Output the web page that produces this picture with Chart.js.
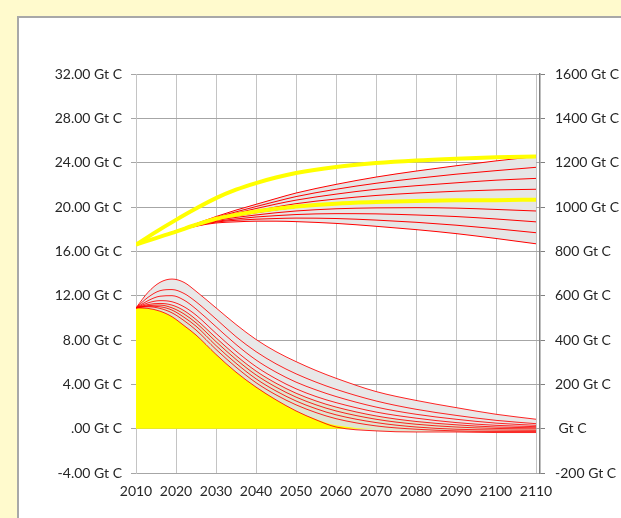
<!DOCTYPE html>
<html>
<head>
<meta charset="utf-8">
<script src="https://cdn.jsdelivr.net/npm/chart.js@4/dist/chart.umd.min.js"></script>
<style>
  html, body { margin: 0; padding: 0; }
  body { width: 621px; height: 518px; overflow: hidden; background: #fffacd; position: relative; }
  #panel { position: absolute; left: 17px; top: 16px; width: 720px; height: 620px;
           background: #ffffff; border: 2px solid #a8a8a8; box-sizing: border-box; }
  #chart { position: absolute; left: 0; top: 0; }
</style>
</head>
<body>
<div id="panel"></div>
<canvas id="chart" width="621" height="518"></canvas>
<script>
// Years sampled for the annual emission pathways (left axis, Gt C per year)
const EMIS_YEARS = [2010, 2013, 2016, 2019, 2022, 2025, 2030, 2035, 2040, 2045, 2050, 2055, 2060, 2070, 2080, 2090, 2100, 2110];

// Emission pathways, highest (E0) to lowest (E8)
const E0 = [10.9, 12.3, 13.2, 13.5, 13.2, 12.4, 10.9, 9.4, 8.05, 6.95, 6.05, 5.25, 4.55, 3.35, 2.55, 1.9, 1.3, 0.85];
const E1 = [10.9, 11.85, 12.45, 12.55, 12.2, 11.45, 9.9, 8.3, 6.95, 5.85, 4.95, 4.2, 3.55, 2.5, 1.75, 1.2, 0.75, 0.45];
const E2 = [10.9, 11.55, 11.95, 12.0, 11.6, 10.8, 9.2, 7.6, 6.2, 5.1, 4.2, 3.5, 2.9, 1.95, 1.3, 0.85, 0.5, 0.3];
const E3 = [10.9, 11.35, 11.55, 11.45, 11.0, 10.25, 8.6, 7.0, 5.6, 4.5, 3.6, 2.9, 2.35, 1.5, 0.95, 0.55, 0.3, 0.18];
const E4 = [10.9, 11.2, 11.3, 11.15, 10.65, 9.85, 8.2, 6.6, 5.2, 4.1, 3.2, 2.5, 1.95, 1.15, 0.65, 0.35, 0.15, 0.08];
const E5 = [10.9, 11.1, 11.15, 10.9, 10.35, 9.55, 7.85, 6.25, 4.85, 3.75, 2.85, 2.15, 1.6, 0.85, 0.4, 0.15, 0.02, -0.02];
const E6 = [10.9, 11.05, 11.0, 10.7, 10.05, 9.25, 7.5, 5.9, 4.5, 3.4, 2.5, 1.8, 1.25, 0.55, 0.15, -0.05, -0.12, -0.15];
const E7 = [10.9, 11.0, 10.85, 10.45, 9.75, 8.9, 7.15, 5.55, 4.15, 3.05, 2.15, 1.45, 0.9, 0.25, -0.05, -0.2, -0.25, -0.25];
const E8 = [10.9, 10.85, 10.6, 10.1, 9.3, 8.45, 6.7, 5.1, 3.75, 2.6, 1.6, 0.8, 0.15, -0.2, -0.3, -0.3, -0.35, -0.35];
// Highlighted emission pathway (yellow area)
const EMIS_YELLOW = [10.9, 10.85, 10.6, 10.1, 9.3, 8.45, 6.7, 5.1, 3.75, 2.6, 1.6, 0.85, 0.3, 0, 0, 0, 0, 0];

// Years sampled for the cumulative totals (right axis, Gt C)
const CUM_YEARS = [2010, 2015, 2020, 2025, 2030, 2035, 2040, 2045, 2050, 2060, 2070, 2080, 2090, 2100, 2110];
const C0 = [830, 862, 893, 925, 957, 986, 1012, 1038, 1063, 1102, 1135, 1162, 1186, 1208, 1228];
const C1 = [830, 862, 892, 923, 953, 978, 1002, 1025, 1047, 1080, 1107, 1129, 1148, 1164, 1179];
const C2 = [830, 861, 892, 922, 950, 972, 993, 1013, 1031, 1058, 1080, 1096, 1109, 1121, 1129];
const C3 = [830, 861, 891, 920, 946, 966, 983, 1000, 1015, 1036, 1052, 1063, 1071, 1077, 1080];
const C4 = [830, 861, 891, 919, 942, 959, 974, 987, 998, 1014, 1024, 1030, 1033, 1033, 1031];
const C5 = [830, 861, 890, 917, 939, 953, 964, 974, 982, 992, 996, 997, 995, 989, 982];
const C6 = [830, 861, 890, 916, 935, 946, 955, 961, 966, 970, 969, 964, 957, 946, 933];
const C7 = [830, 860, 889, 914, 932, 940, 945, 948, 950, 948, 941, 931, 918, 902, 884];
const C8 = [830, 860, 889, 913, 928, 933, 936, 936, 934, 926, 913, 898, 880, 858, 834];
// Highlighted cumulative totals (thick yellow lines)
const CUM_YELLOW_HIGH = [830, 888, 942, 993, 1040, 1078, 1108, 1133, 1153, 1180, 1198, 1210, 1218, 1224, 1228];
const CUM_YELLOW_LOW = [830, 860, 889, 920, 947, 965, 980, 992, 1002, 1015, 1022, 1027, 1030, 1031, 1033];

// Axis ticks
const X_TICKS = [2010, 2020, 2030, 2040, 2050, 2060, 2070, 2080, 2090, 2100, 2110];
const LEFT_TICKS = [-4, 0, 4, 8, 12, 16, 20, 24, 28, 32];
const RIGHT_TICKS = [-200, 0, 200, 400, 600, 800, 1000, 1200, 1400, 1600];

const pts = (xs, ys) => xs.map((x, i) => ({ x: x, y: ys[i] }));

const CUM = [C0, C1, C2, C3, C4, C5, C6, C7, C8];
const EMIS = [E0, E1, E2, E3, E4, E5, E6, E7, E8];

const base = { pointRadius: 0, cubicInterpolationMode: 'monotone', fill: false };
const NONE = 'rgba(0,0,0,0)';

const datasets = [];
// thick yellow cumulative lines (drawn on top)
datasets.push(Object.assign({}, base, { data: pts(CUM_YEARS, CUM_YELLOW_HIGH), yAxisID: 'y2', borderColor: '#ffff00', borderWidth: 4 }));
datasets.push(Object.assign({}, base, { data: pts(CUM_YEARS, CUM_YELLOW_LOW), yAxisID: 'y2', borderColor: '#ffff00', borderWidth: 4 }));
// red cumulative lines
const CUM_START = datasets.length;
CUM.forEach(c => datasets.push(Object.assign({}, base, { data: pts(CUM_YEARS, c), yAxisID: 'y2', borderColor: '#ff0000', borderWidth: 1 })));
// red emission lines
const EMIS_START = datasets.length;
EMIS.forEach(e => datasets.push(Object.assign({}, base, { data: pts(EMIS_YEARS, e), yAxisID: 'y', borderColor: 'rgba(255,0,0,0.85)', borderWidth: 1 })));
// yellow emission area
datasets.push(Object.assign({}, base, { data: pts(EMIS_YEARS, EMIS_YELLOW), yAxisID: 'y', borderWidth: 0, borderColor: NONE,
  fill: { target: 'origin', above: '#ffff00', below: '#ffff00' } }));
// greenish band in the lower half of the emission range
datasets.push(Object.assign({}, base, { data: pts(EMIS_YEARS, E4), yAxisID: 'y', borderWidth: 0, borderColor: NONE,
  fill: { target: EMIS_START + 8, above: '#dfe5d0', below: '#dfe5d0' } }));
// grey band between highest and lowest emission pathways
datasets.push(Object.assign({}, base, { data: pts(EMIS_YEARS, E0), yAxisID: 'y', borderWidth: 0, borderColor: NONE,
  fill: { target: EMIS_START + 8, above: '#e8e8e8', below: '#e8e8e8' } }));
// grey band between highest and lowest cumulative totals
datasets.push(Object.assign({}, base, { data: pts(CUM_YEARS, C0), yAxisID: 'y2', borderWidth: 0, borderColor: NONE,
  fill: { target: CUM_START + 8, above: '#e6e6e6', below: '#e6e6e6' } }));

const FONT = { family: 'Lato', size: 14 };
const TEXT = '#262626';

new Chart(document.getElementById('chart'), {
  type: 'line',
  data: { datasets: datasets },
  options: {
    responsive: false,
    animation: false,
    devicePixelRatio: 1,
    layout: { padding: { top: 74, left: 0, right: 0, bottom: 0 } },
    plugins: { legend: { display: false }, tooltip: { enabled: false } },
    scales: {
      x: {
        type: 'linear', min: X_TICKS[0], max: 2111,
        afterBuildTicks: s => { s.ticks = X_TICKS.map(v => ({ value: v })); },
        afterFit: s => { s.height = 45; },
        ticks: { color: TEXT, font: FONT, padding: 10, maxRotation: 0, autoSkip: false, callback: v => String(v) },
        grid: { color: '#c4c4c4', lineWidth: 1, drawTicks: false },
        border: { color: '#a6a6a6', width: 1 }
      },
      y: {
        type: 'linear', position: 'left', min: LEFT_TICKS[0], max: LEFT_TICKS[LEFT_TICKS.length - 1],
        afterBuildTicks: s => { s.ticks = LEFT_TICKS.map(v => ({ value: v })); },
        afterFit: s => { s.width = 136; },
        ticks: { color: TEXT, font: FONT, padding: 9,
                 callback: v => (v === 0 ? '.00' : v.toFixed(2)) + ' Gt C' },
        grid: { color: '#a6a6a6', lineWidth: 1, tickLength: 5 },
        border: { color: '#c4c4c4', width: 1 }
      },
      y2: {
        type: 'linear', position: 'right', min: RIGHT_TICKS[0], max: RIGHT_TICKS[RIGHT_TICKS.length - 1],
        afterBuildTicks: s => { s.ticks = RIGHT_TICKS.map(v => ({ value: v })); },
        afterFit: s => { s.width = 81; },
        ticks: { color: TEXT, font: FONT, padding: 10,
                 callback: v => (v === 0 ? '' : String(v)) + ' Gt C' },
        grid: { drawOnChartArea: false, color: '#7f7f7f', tickLength: 5, lineWidth: 1 },
        border: { color: '#7f7f7f', width: 1.5 }
      }
    }
  }
});
</script>
</body>
</html>
